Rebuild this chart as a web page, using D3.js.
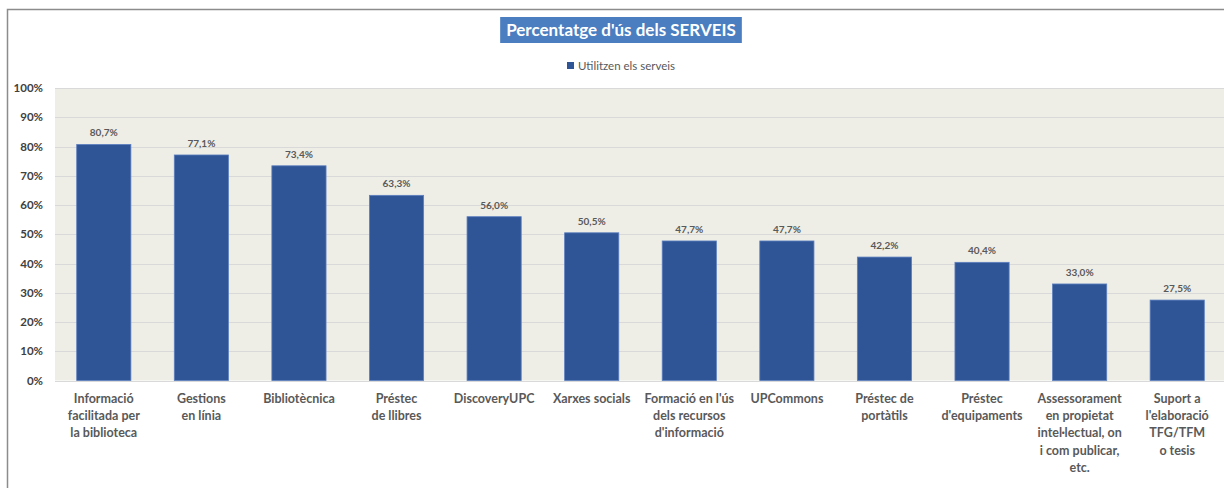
<!DOCTYPE html>
<html><head><meta charset="utf-8">
<script src="https://cdn.jsdelivr.net/npm/d3@7"></script>
<style>
html,body{margin:0;padding:0;background:#fff;}
svg{display:block;font-family:Lato,"Liberation Sans",sans-serif;}
</style></head>
<body><svg id="c" width="1224" height="488"></svg>
<script>
const categories = [
  ["Informació","facilitada per","la biblioteca"],
  ["Gestions","en línia"],
  ["Bibliotècnica"],
  ["Préstec","de llibres"],
  ["DiscoveryUPC"],
  ["Xarxes socials"],
  ["Formació en l'ús","dels recursos","d'informació"],
  ["UPCommons"],
  ["Préstec de","portàtils"],
  ["Préstec","d'equipaments"],
  ["Assessorament","en propietat","intel·lectual, on","i com publicar,","etc."],
  ["Suport a","l'elaboració","TFG/TFM","o tesis"]
];
const values = [80.7, 77.1, 73.4, 63.3, 56.0, 50.5, 47.7, 47.7, 42.2, 40.4, 33.0, 27.5];
const yTicks = [0,10,20,30,40,50,60,70,80,90,100];
const title = "Percentatge d'ús dels SERVEIS";
const seriesName = "Utilitzen els serveis";

(function(){
const svg = d3.select("#c");
svg.append("rect").attr("x",7.5).attr("y",9.5).attr("width",1240).attr("height",500)
  .attr("fill","#fff").attr("stroke","#8c8c8c").attr("stroke-width",1.5);

const pL = 55, pR = 1226, pT = 88, pB = 380.5;
const ids = d3.range(values.length);
const x = d3.scaleBand().domain(ids).range([pL,pR]).paddingInner(0.445).paddingOuter(0.2225);
const y = d3.scaleLinear().domain([0,100]).range([pB,pT]);

svg.append("rect").attr("x",pL).attr("y",pT).attr("width",pR-pL).attr("height",pB-pT).attr("fill","#EEEDE6");

svg.append("g").selectAll("line").data(yTicks).join("line")
  .attr("x1",pL).attr("x2",pR)
  .attr("y1",d=>Math.round(y(d))+0.5).attr("y2",d=>Math.round(y(d))+0.5)
  .attr("stroke","#D9D9D9").attr("stroke-width",1);

const yAxis = d3.axisLeft(y).tickValues(yTicks).tickFormat(d=>d+"%").tickSize(0).tickPadding(0);
const ga = svg.append("g").attr("transform",`translate(${pL-12},0)`).call(yAxis);
ga.select(".domain").remove();
ga.selectAll("text").attr("font-size",11.5).attr("font-weight","bold").attr("fill","#404040").attr("font-family","Lato,'Liberation Sans',sans-serif");

svg.append("g").selectAll("rect").data(values).join("rect")
  .attr("x",(d,i)=>x(i)).attr("width",x.bandwidth())
  .attr("y",d=>y(d)).attr("height",d=>pB-y(d))
  .attr("fill","#2F5597").attr("stroke","#5B7FBF").attr("stroke-width",0.8);

svg.append("g").selectAll("text").data(values).join("text")
  .attr("x",(d,i)=>x(i)+x.bandwidth()/2).attr("y",d=>y(d)-8)
  .attr("text-anchor","middle").attr("font-size",10).attr("font-weight","bold").attr("fill","#595959")
  .text(d=>d.toFixed(1).replace(".",",")+"%");

const gx = svg.append("g");
categories.forEach((lines,i)=>{
  const t = gx.append("text").attr("text-anchor","middle").attr("font-size",12.5).attr("font-weight","bold").attr("fill","#595959");
  lines.forEach((l,j)=>{
    t.append("tspan").attr("x",x(i)+x.bandwidth()/2).attr("y",403+j*17.2).text(l);
  });
});

const tcx = 621;
const tbox = svg.append("rect").attr("y",17).attr("height",26).attr("fill","#4A7EC0");
const tt = svg.append("text").attr("x",tcx).attr("y",36).attr("text-anchor","middle").attr("font-size",17).attr("font-weight","bold").attr("fill","#fff").text(title);
const tw = tt.node().getComputedTextLength() + 12;
tbox.attr("x",tcx-tw/2).attr("width",tw);

svg.append("rect").attr("x",567).attr("y",62).attr("width",7).attr("height",7).attr("fill","#2F5597");
svg.append("text").attr("x",578).attr("y",69.5).attr("font-size",11.5).attr("fill","#595959").text(seriesName);
})();
</script></body></html>
